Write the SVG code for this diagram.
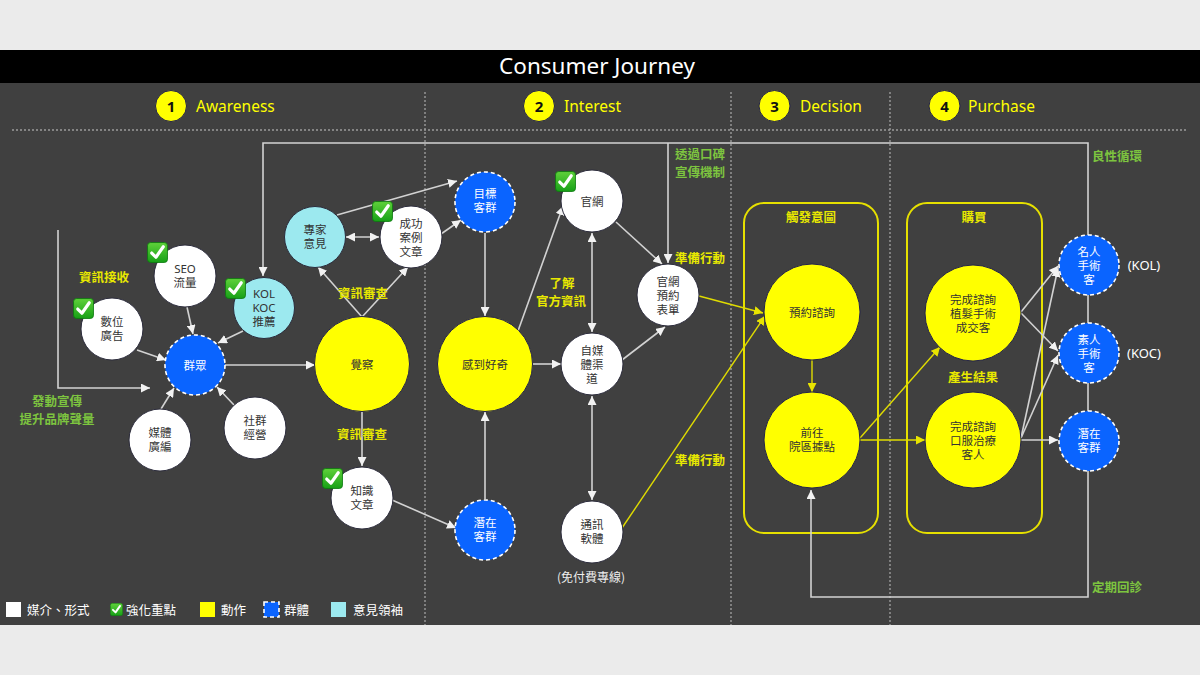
<svg xmlns="http://www.w3.org/2000/svg" width="1200" height="675" viewBox="0 0 1200 675">
<style>
.t{font-family:"Noto Sans","Noto Sans CJK TC",sans-serif}
.c{font-family:"Noto Sans CJK TC","Noto Sans",sans-serif}
.nt{font-family:"Noto Sans","Noto Sans CJK TC",sans-serif;font-size:11.5px;fill:#333;text-anchor:middle}
.wt{font-family:"Noto Sans","Noto Sans CJK TC",sans-serif;font-size:11.5px;fill:#fff;text-anchor:middle}
.hd{font-family:"Noto Sans",sans-serif;font-size:15.5px;fill:#ffff00}
.num{font-family:"Noto Sans",sans-serif;font-size:15px;font-weight:bold;fill:#111;text-anchor:middle}
.yl{font-family:"Noto Sans CJK TC",sans-serif;font-size:12.5px;font-weight:bold;fill:#e8e800;text-anchor:middle}
.gl{font-family:"Noto Sans CJK TC",sans-serif;font-size:12.5px;font-weight:bold;fill:#7dc43f;text-anchor:middle}
.lg{font-family:"Noto Sans CJK TC",sans-serif;font-size:12.5px;fill:#fff}
.white{fill:#fff;stroke:#2b2b3b;stroke-width:1}
.yel{fill:#ffff00;stroke:#23234a;stroke-width:1}
.cyan{fill:#9ce9ef;stroke:#2b2b3b;stroke-width:1}
.blue{fill:#0a64ff;stroke:#fff;stroke-width:1.6;stroke-dasharray:4 3}
.ln{fill:none;stroke:#d2d2d2;stroke-width:1.6}
.ya{fill:none;stroke:#e0dc00;stroke-width:1.4}
.dot{fill:none;stroke:#9a9a9a;stroke-width:1.4;stroke-dasharray:2 2}
.box{fill:none;stroke:#e6e000;stroke-width:2}
</style>
<defs>
<marker id="aw" viewBox="0 0 10 10" refX="10" refY="5" markerWidth="9" markerHeight="9" markerUnits="userSpaceOnUse" orient="auto-start-reverse"><path d="M0,0 L10,5 L0,10 z" fill="#f2f2f2"/></marker>
<marker id="ay" viewBox="0 0 10 10" refX="10" refY="5" markerWidth="9" markerHeight="9" markerUnits="userSpaceOnUse" orient="auto"><path d="M0,0 L10,5 L0,10 z" fill="#e8e400"/></marker>
<linearGradient id="gg" x1="0" y1="0" x2="0" y2="1"><stop offset="0" stop-color="#5fd13a"/><stop offset="1" stop-color="#17a017"/></linearGradient>
<symbol id="chk" viewBox="0 0 20 20"><rect x="0.5" y="0.5" width="19" height="19" rx="3" fill="url(#gg)" stroke="#0d7a10" stroke-width="0.8"/><path d="M4.5,10.5 L8.5,14.5 L15.5,4.5" fill="none" stroke="#fff" stroke-width="3" stroke-linecap="round" stroke-linejoin="round"/></symbol>
</defs>

<rect x="0" y="0" width="1200" height="675" fill="#ebebeb"/>
<rect x="0" y="50" width="1200" height="33" fill="#000"/>
<rect x="0" y="83" width="1200" height="542" fill="#404040"/>
<text x="597" y="74" class="t" font-size="22.5" fill="#fff" text-anchor="middle">Consumer Journey</text>

<g id="headers">
<line x1="12" y1="130" x2="1188" y2="130" class="dot"/>
<line x1="425" y1="92" x2="425" y2="625" class="dot"/>
<line x1="731" y1="92" x2="731" y2="625" class="dot"/>
<line x1="890" y1="92" x2="890" y2="625" class="dot"/>
<circle cx="171" cy="106" r="15.5" class="yel"/><text x="171" y="111.5" class="num">1</text><text x="196" y="112" class="hd">Awareness</text>
<circle cx="539" cy="106" r="15.5" class="yel"/><text x="539" y="111.5" class="num">2</text><text x="564" y="112" class="hd">Interest</text>
<circle cx="774.5" cy="106" r="15.5" class="yel"/><text x="774.5" y="111.5" class="num">3</text><text x="800" y="112" class="hd">Decision</text>
<circle cx="944.5" cy="106" r="15.5" class="yel"/><text x="944.5" y="111.5" class="num">4</text><text x="968" y="112" class="hd">Purchase</text>
</g>

<g id="groups">
<rect x="744" y="203" width="134" height="330" rx="20" class="box"/>
<text x="811" y="222" class="yl" font-size="11">觸發意圖</text>
<rect x="907" y="203" width="135" height="330" rx="20" class="box"/>
<text x="974" y="222" class="yl" font-size="11">購買</text>
</g>

<g id="connectors">
<path d="M1088,440 L1088,143 L263,143 L263,276" class="ln" marker-end="url(#aw)"/>
<path d="M668,143 L668,263" class="ln" marker-end="url(#aw)"/>
<path d="M1088,440 L1088,597 L811,597 L811,490" class="ln" marker-end="url(#aw)"/>
<path d="M58,230 L58,388 L150,388" class="ln" marker-end="url(#aw)"/>
<line x1="137" y1="350" x2="166" y2="360" class="ln" marker-end="url(#aw)"/>
<line x1="187" y1="307" x2="193" y2="334" class="ln" marker-end="url(#aw)"/>
<line x1="243" y1="331" x2="218" y2="343" class="ln" marker-end="url(#aw)"/>
<line x1="161" y1="409" x2="174" y2="388" class="ln" marker-end="url(#aw)"/>
<line x1="234" y1="405" x2="217" y2="387" class="ln" marker-end="url(#aw)"/>
<line x1="225" y1="365" x2="315" y2="365" class="ln" marker-end="url(#aw)"/>
<line x1="362" y1="317" x2="318" y2="267" class="ln" marker-end="url(#aw)"/>
<line x1="362" y1="317" x2="408" y2="267" class="ln" marker-end="url(#aw)"/>
<line x1="346" y1="237" x2="379" y2="237" class="ln" marker-start="url(#aw)" marker-end="url(#aw)"/>
<line x1="337" y1="215" x2="457" y2="181" class="ln" marker-end="url(#aw)"/>
<line x1="441" y1="234" x2="461" y2="220" class="ln" marker-end="url(#aw)"/>
<line x1="485" y1="233" x2="485" y2="316" class="ln" marker-end="url(#aw)"/>
<line x1="362" y1="412" x2="362" y2="466" class="ln" marker-end="url(#aw)"/>
<line x1="392" y1="500" x2="456" y2="528" class="ln" marker-end="url(#aw)"/>
<line x1="485" y1="499" x2="485" y2="412" class="ln" marker-end="url(#aw)"/>
<line x1="533" y1="364" x2="561" y2="364" class="ln" marker-end="url(#aw)"/>
<line x1="518" y1="331" x2="563" y2="206" class="ln" marker-end="url(#aw)"/>
<line x1="592" y1="233" x2="592" y2="332" class="ln" marker-start="url(#aw)" marker-end="url(#aw)"/>
<line x1="616" y1="222" x2="662" y2="264" class="ln" marker-end="url(#aw)"/>
<line x1="622" y1="360" x2="665" y2="327" class="ln" marker-end="url(#aw)"/>
<line x1="592" y1="396" x2="592" y2="500" class="ln" marker-start="url(#aw)" marker-end="url(#aw)"/>
<line x1="699" y1="296" x2="763" y2="313" class="ya" marker-end="url(#ay)"/>
<line x1="622" y1="528" x2="765" y2="316" class="ya" marker-end="url(#ay)"/>
<line x1="812" y1="360" x2="812" y2="392" class="ya" marker-end="url(#ay)"/>
<line x1="860" y1="438" x2="940" y2="347" class="ya" marker-end="url(#ay)"/>
<line x1="860" y1="440" x2="925" y2="440" class="ya" marker-end="url(#ay)"/>
<line x1="1021" y1="312" x2="1058" y2="266" class="ln" marker-end="url(#aw)"/>
<line x1="1021" y1="313" x2="1058" y2="351" class="ln" marker-end="url(#aw)"/>
<line x1="1021" y1="438" x2="1058" y2="268" class="ln" marker-end="url(#aw)"/>
<line x1="1021" y1="438" x2="1058" y2="355" class="ln" marker-end="url(#aw)"/>
<line x1="1021" y1="440" x2="1058" y2="440" class="ln" marker-end="url(#aw)"/>
</g>

<g id="labels">
<text x="104" y="282" class="yl">資訊接收</text>
<text x="57" y="406" class="gl" font-size="12">發動宣傳</text>
<text x="57" y="424" class="gl" font-size="12">提升品牌聲量</text>
<text x="363" y="298" class="yl">資訊審查</text>
<text x="362" y="439" class="yl">資訊審查</text>
<text x="562" y="288" class="yl" font-size="12">了解</text>
<text x="561" y="306" class="yl" font-size="12">官方資訊</text>
<text x="700" y="159" class="gl" font-size="12">透過口碑</text>
<text x="700" y="177" class="gl" font-size="12">宣傳機制</text>
<text x="700" y="263" class="yl">準備行動</text>
<text x="700" y="465" class="yl">準備行動</text>
<text x="973" y="382" class="yl">產生結果</text>
<text x="1117" y="161" class="gl">良性循環</text>
<text x="1117" y="592" class="gl">定期回診</text>
<text x="1144" y="270" class="t" font-size="13" fill="#fff" text-anchor="middle">(KOL)</text>
<text x="1144" y="358" class="t" font-size="13" fill="#fff" text-anchor="middle">(KOC)</text>
<text x="591" y="582" class="c" font-size="12" fill="#eee" text-anchor="middle">(免付費專線)</text>
</g>

<g id="n-ad"><circle cx="112" cy="329" r="31" class="white"/><text x="112" y="326" class="nt">數位</text><text x="112" y="340" class="nt">廣告</text><use href="#chk" x="73" y="298" width="21" height="21"/></g>
<g id="n-seo"><circle cx="185" cy="276" r="31" class="white"/><text x="185" y="273" class="nt">SEO</text><text x="185" y="287" class="nt">流量</text><use href="#chk" x="147" y="242" width="21" height="21"/></g>
<g id="n-kol"><circle cx="264" cy="308" r="30.5" class="cyan"/><text x="264" y="298" class="nt">KOL</text><text x="264" y="312" class="nt">KOC</text><text x="264" y="326" class="nt">推薦</text><use href="#chk" x="225" y="278" width="21" height="21"/></g>
<g id="n-crowd"><circle cx="195" cy="365" r="30" class="blue"/><text x="195" y="369.5" class="wt">群眾</text></g>
<g id="n-media"><circle cx="160" cy="440" r="31" class="white"/><text x="160" y="437" class="nt">媒體</text><text x="160" y="451" class="nt">廣編</text></g>
<g id="n-social"><circle cx="255" cy="428" r="31" class="white"/><text x="255" y="425" class="nt">社群</text><text x="255" y="439" class="nt">經營</text></g>
<g id="n-aware"><circle cx="362" cy="364" r="47.5" class="yel"/><text x="362" y="369" class="nt" fill="#222">覺察</text></g>
<g id="n-expert"><circle cx="315" cy="237" r="30.5" class="cyan"/><text x="315" y="234" class="nt">專家</text><text x="315" y="248" class="nt">意見</text></g>
<g id="n-case"><circle cx="411" cy="237" r="31" class="white"/><text x="411" y="227.5" class="nt">成功</text><text x="411" y="241.5" class="nt">案例</text><text x="411" y="255.5" class="nt">文章</text><use href="#chk" x="372" y="201" width="21" height="21"/></g>
<g id="n-target"><circle cx="485" cy="202" r="30" class="blue"/><text x="485" y="198" class="wt">目標</text><text x="485" y="212" class="wt">客群</text></g>
<g id="n-know"><circle cx="362" cy="498" r="31" class="white"/><text x="362" y="495" class="nt">知識</text><text x="362" y="509" class="nt">文章</text><use href="#chk" x="322" y="468" width="21" height="21"/></g>
<g id="n-curious"><circle cx="485" cy="364" r="47.5" class="yel"/><text x="485" y="369" class="nt" fill="#222">感到好奇</text></g>
<g id="n-potential1"><circle cx="485" cy="530" r="30" class="blue"/><text x="485" y="527" class="wt">潛在</text><text x="485" y="541" class="wt">客群</text></g>
<g id="n-web"><circle cx="592" cy="201" r="31" class="white"/><text x="592" y="205.5" class="nt">官網</text><use href="#chk" x="555" y="171" width="21" height="21"/></g>
<g id="n-self"><circle cx="592" cy="364" r="31" class="white"/><text x="592" y="354.5" class="nt">自媒</text><text x="592" y="368.5" class="nt">體渠</text><text x="592" y="382.5" class="nt">道</text></g>
<g id="n-form"><circle cx="668" cy="295" r="31" class="white"/><text x="668" y="285.5" class="nt">官網</text><text x="668" y="299.5" class="nt">預約</text><text x="668" y="313.5" class="nt">表單</text></g>
<g id="n-im"><circle cx="592" cy="532" r="31" class="white"/><text x="592" y="529" class="nt">通訊</text><text x="592" y="543" class="nt">軟體</text></g>
<g id="n-book"><circle cx="812" cy="312" r="48" class="yel"/><text x="812" y="317" class="nt" fill="#222">預約諮詢</text></g>
<g id="n-visit"><circle cx="812" cy="440" r="48" class="yel"/><text x="812" y="437" class="nt" fill="#222">前往</text><text x="812" y="451" class="nt" fill="#222">院區據點</text></g>
<g id="n-surgery"><circle cx="973" cy="313" r="48" class="yel"/><text x="973" y="303.5" class="nt" fill="#222">完成諮詢</text><text x="973" y="317.5" class="nt" fill="#222">植髮手術</text><text x="973" y="331.5" class="nt" fill="#222">成交客</text></g>
<g id="n-oral"><circle cx="973" cy="440" r="48" class="yel"/><text x="973" y="430.5" class="nt" fill="#222">完成諮詢</text><text x="973" y="444.5" class="nt" fill="#222">口服治療</text><text x="973" y="458.5" class="nt" fill="#222">客人</text></g>
<g id="n-celeb"><circle cx="1089" cy="265" r="30" class="blue"/><text x="1089" y="255.5" class="wt">名人</text><text x="1089" y="269.5" class="wt">手術</text><text x="1089" y="283.5" class="wt">客</text></g>
<g id="n-civ"><circle cx="1089" cy="353" r="30" class="blue"/><text x="1089" y="343.5" class="wt">素人</text><text x="1089" y="357.5" class="wt">手術</text><text x="1089" y="371.5" class="wt">客</text></g>
<g id="n-potential2"><circle cx="1089" cy="441" r="30" class="blue"/><text x="1089" y="438" class="wt">潛在</text><text x="1089" y="452" class="wt">客群</text></g>

<g id="legend">
<rect x="6" y="602" width="15" height="15" fill="#fff"/><text x="27" y="615" class="lg">媒介、形式</text>
<use href="#chk" x="110" y="603" width="13" height="13"/><text x="126" y="615" class="lg">強化重點</text>
<rect x="200" y="602" width="15" height="15" fill="#ffff00"/><text x="221" y="615" class="lg">動作</text>
<rect x="264" y="602" width="15" height="15" class="blue"/><text x="284" y="615" class="lg">群體</text>
<rect x="331" y="602" width="15" height="15" fill="#9ce9ef"/><text x="353" y="615" class="lg">意見領袖</text>
</g>
</svg>
